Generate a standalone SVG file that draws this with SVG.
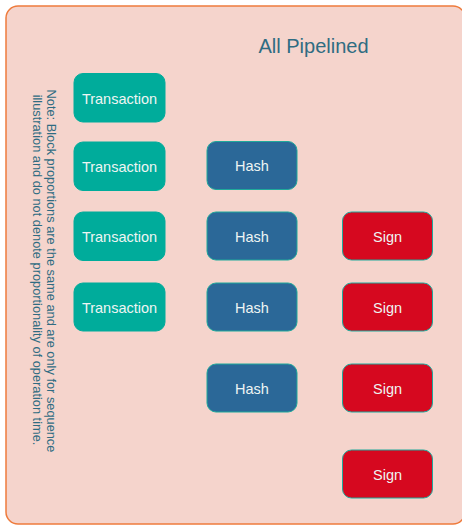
<svg xmlns="http://www.w3.org/2000/svg" width="462" height="525" viewBox="0 0 462 525">
  <style>
    .frame { fill: #F5D4CC; stroke: #EE7B3C; stroke-width: 1.5; }
    .title { font-family: "Liberation Sans", Arial, sans-serif; font-size: 20px; fill: #2F6C82; text-anchor: middle; }
    .note { font-family: "Liberation Sans", Arial, sans-serif; font-size: 12.8px; fill: #2F6C82; text-anchor: middle; }
    .blk { stroke-width: 1; }
    .tx { fill: #00AC9B; stroke: #00AC9B; }
    .hash { fill: #2B6898; stroke: #1FA99B; }
    .sign { fill: #D6081F; stroke: #1FA99B; }
    .lbl { font-family: "Liberation Sans", Arial, sans-serif; font-size: 14.5px; fill: #EEF5F3; text-anchor: middle; }
  </style>

  <!-- panel (right edge runs just past the canvas) -->
  <rect class="frame" x="6" y="6" width="459" height="518" rx="12" ry="12"/>
  <text class="title" x="313.5" y="53">All Pipelined</text>

  <!-- rotated side note -->
  <g id="note" transform="translate(47,0) rotate(90)">
    <text class="note" x="271" y="0">Note: Block proportions are the same and are only for sequence</text>
    <text class="note" x="270" y="14">illustration and do not denote proportionality of operation time.</text>
  </g>

  <!-- Transaction column -->
  <g id="tx1"><rect class="blk tx" x="74" y="73.5" width="91" height="48.5" rx="9"/><text class="lbl" x="119.5" y="103.5">Transaction</text></g>
  <g id="tx2"><rect class="blk tx" x="74" y="142" width="91" height="48.5" rx="9"/><text class="lbl" x="119.5" y="172">Transaction</text></g>
  <g id="tx3"><rect class="blk tx" x="74" y="212" width="91" height="48.5" rx="9"/><text class="lbl" x="119.5" y="242">Transaction</text></g>
  <g id="tx4"><rect class="blk tx" x="74" y="283" width="91" height="48" rx="9"/><text class="lbl" x="119.5" y="312.5">Transaction</text></g>

  <!-- Hash column -->
  <g id="hash1"><rect class="blk hash" x="207" y="141.5" width="90" height="48" rx="9"/><text class="lbl" x="252" y="171">Hash</text></g>
  <g id="hash2"><rect class="blk hash" x="207" y="212" width="90" height="48" rx="9"/><text class="lbl" x="252" y="241.5">Hash</text></g>
  <g id="hash3"><rect class="blk hash" x="207" y="283" width="90" height="48" rx="9"/><text class="lbl" x="252" y="312.5">Hash</text></g>
  <g id="hash4"><rect class="blk hash" x="207" y="364" width="90" height="48" rx="9"/><text class="lbl" x="252" y="393.5">Hash</text></g>

  <!-- Sign column -->
  <g id="sign1"><rect class="blk sign" x="342.5" y="212" width="90" height="48" rx="9"/><text class="lbl" x="387.5" y="241.5">Sign</text></g>
  <g id="sign2"><rect class="blk sign" x="342.5" y="283" width="90" height="48" rx="9"/><text class="lbl" x="387.5" y="312.5">Sign</text></g>
  <g id="sign3"><rect class="blk sign" x="342.5" y="364" width="90" height="48" rx="9"/><text class="lbl" x="387.5" y="393.5">Sign</text></g>
  <g id="sign4"><rect class="blk sign" x="342.5" y="450" width="90" height="48" rx="9"/><text class="lbl" x="387.5" y="479.5">Sign</text></g>
</svg>
